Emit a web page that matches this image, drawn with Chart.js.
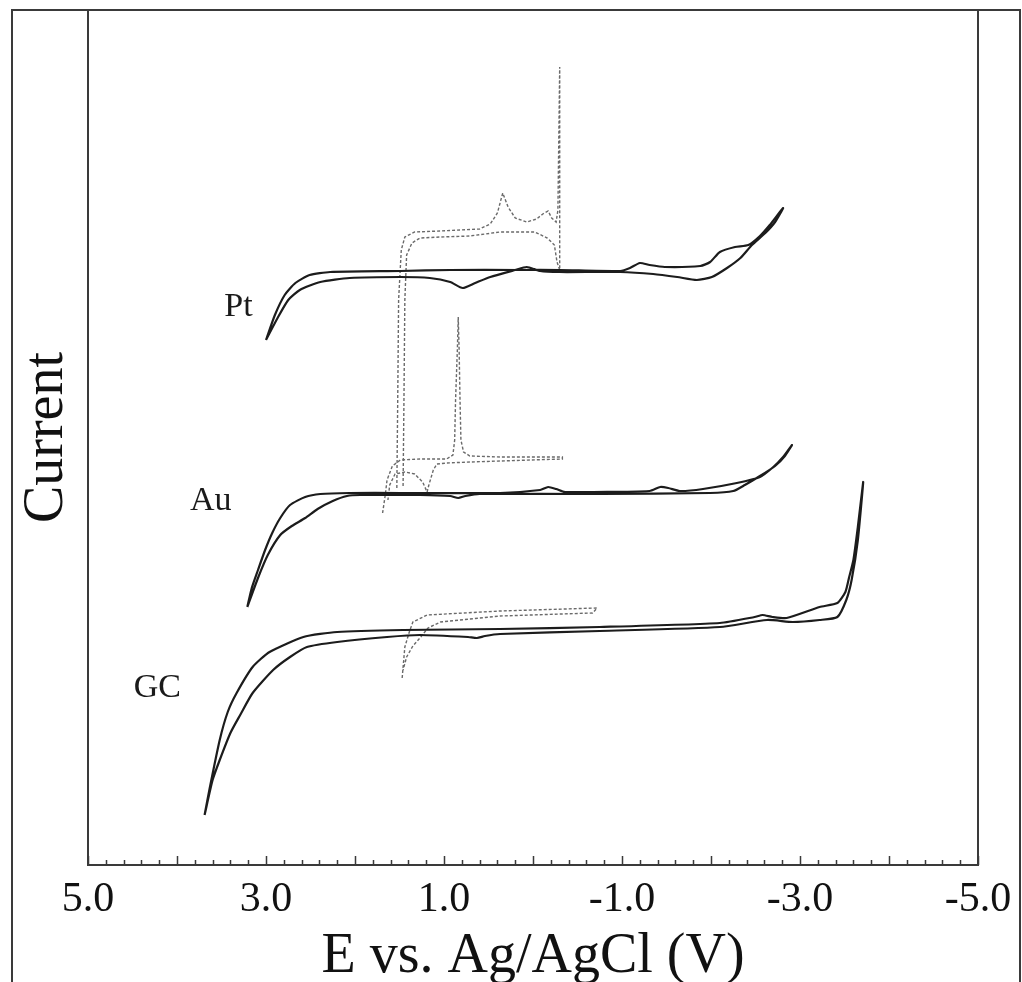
<!DOCTYPE html>
<html>
<head>
<meta charset="utf-8">
<script src="https://cdn.jsdelivr.net/npm/chart.js@4.4.1/dist/chart.umd.min.js"></script>
<style>
    html, body { margin: 0; padding: 0; background: #fff; }
    #wrap { width: 1022px; height: 982px; }
</style>
</head>
<body>
<div id="wrap"><canvas id="cvChart"></canvas></div>
<script>

// x: potential (V vs Ag/AgCl), y: current (arbitrary units, curves offset per electrode)
const xTickLabels = [5, 3, 1, -1, -3, -5];

const ptSolidV = [3.00,2.90,2.79,2.67,2.51,2.28,1.49,0.93,0.15,-0.30,-0.98,-1.09,-1.20,-1.31,-1.48,-1.88,-1.99,-2.10,-2.27,-2.42,-2.55,-2.66,-2.81,-2.72,-2.61,-2.46,-2.33,-2.18,-2.01,-1.84,-1.62,-1.35,-0.98,-0.30,-0.08,0.07,0.20,0.48,0.65,0.79,0.93,1.16,1.49,2.06,2.39,2.62,2.75,2.87,3.00];
const ptSolidI = [52.5,55.0,57.0,58.2,59.0,59.3,59.4,59.5,59.5,59.5,59.4,59.7,60.2,60.0,59.8,59.9,60.3,61.3,61.8,62.0,62.9,64.0,65.7,64.3,63.2,62.0,60.7,59.7,58.8,58.5,58.8,59.1,59.3,59.3,59.4,59.8,59.5,58.8,58.2,57.7,58.3,58.7,58.8,58.7,58.3,57.5,56.5,54.7,52.5];

const ptDotV = [1.53,1.52,1.51,1.48,1.44,1.33,1.04,0.60,0.48,0.40,0.34,0.28,0.20,0.07,-0.04,-0.11,-0.17,-0.21,-0.26,-0.28,-0.30,-0.30,-0.30,-0.27,-0.24,-0.16,-0.02,0.37,0.71,1.04,1.27,1.36,1.42,1.44,1.45,1.46];
const ptDotI = [37.7,46.5,56.5,61.5,62.8,63.3,63.4,63.6,64.1,65.2,67.2,65.8,64.7,64.3,64.6,65.1,65.4,64.7,64.3,65.5,79.8,71.5,59.5,60.3,62.0,62.7,63.3,63.3,62.9,62.8,62.7,62.2,61.0,56.5,46.5,37.7];

const auSolidV = [3.21,3.16,3.09,3.01,2.93,2.84,2.73,2.56,2.39,2.06,1.49,0.37,-0.08,-0.17,-0.26,-0.36,-1.31,-1.43,-1.52,-1.65,-1.91,-2.29,-2.55,-2.70,-2.81,-2.91,-2.83,-2.72,-2.55,-2.38,-2.25,-1.99,-0.75,0.60,0.76,0.84,0.93,1.27,1.94,2.09,2.25,2.42,2.56,2.71,2.84,2.98,3.09,3.21];
const auSolidI = [25.8,27.7,29.5,31.5,33.2,34.7,36.0,36.8,37.1,37.2,37.2,37.2,37.5,37.8,37.6,37.3,37.4,37.8,37.7,37.4,37.6,38.2,38.8,39.8,40.8,42.0,40.9,39.9,38.9,38.0,37.4,37.2,37.1,37.1,36.9,36.7,36.9,37.0,37.0,36.9,36.4,35.6,34.7,33.9,33.0,31.0,28.7,25.8];

const auDotV = [1.69,1.66,1.64,1.58,1.49,1.27,0.97,0.90,0.88,0.87,0.85,0.84,0.83,0.82,0.81,0.78,0.71,0.37,-0.33,-0.33,0.37,0.71,0.97,1.08,1.12,1.17,1.19,1.24,1.33,1.44,1.55,1.61,1.63];
const auDotI = [35.2,37.0,38.5,39.9,40.5,40.6,40.6,41.0,42.5,46.5,51.5,54.8,51.5,46.5,42.5,41.3,40.9,40.8,40.8,40.6,40.4,40.3,40.2,40.1,39.5,38.0,37.3,38.3,39.1,39.3,39.1,38.0,36.5];

const gcSolidV = [3.69,3.63,3.52,3.43,3.33,3.15,2.96,2.58,2.20,1.46,0.37,-0.75,-2.10,-2.49,-2.58,-2.69,-2.85,-3.22,-3.42,-3.51,-3.55,-3.60,-3.65,-3.71,-3.65,-3.58,-3.52,-3.42,-3.22,-2.92,-2.63,-2.10,-0.75,0.37,0.54,0.63,0.73,1.27,1.64,2.20,2.54,2.73,2.92,3.15,3.29,3.40,3.52,3.60,3.69];
const gcSolidI = [5.0,7.8,12.5,15.3,17.2,19.8,21.3,22.8,23.3,23.5,23.6,23.8,24.2,24.8,25.0,24.8,24.7,25.8,26.2,27.3,28.7,30.5,33.8,38.3,32.5,28.5,26.5,24.8,24.5,24.3,24.5,23.8,23.4,23.1,22.9,22.7,22.8,23.0,22.8,22.3,21.8,20.8,19.5,17.2,15.0,13.2,10.5,8.5,5.0];

const gcDotV = [1.47,1.44,1.39,1.35,1.19,0.37,-0.72,-0.67,0.37,1.04,1.18,1.27,1.35,1.42,1.46];
const gcDotI = [18.7,21.8,23.3,24.3,25.0,25.4,25.7,25.2,24.9,24.3,23.7,22.7,21.9,20.8,19.5];

// electrode labels, placed in data units
const electrodeNames = ["Pt", "Au", "GC"];
const labelV = [3.31, 3.62, 4.22];
const labelI = [55.8, 36.4, 17.7];

const SERIF = "'Liberation Serif', 'DejaVu Serif', serif";

function pts(vs, is){
    return vs.map((v, i) => ({ x: v, y: is[i] }));
}

function solid(vs, is){
    return {
        data: pts(vs, is),
        borderColor: "#1c1c1c",
        borderWidth: 2.2,
        pointRadius: 0,
        tension: 0.2,
        fill: false
    };
}

function dotted(vs, is){
    return {
        data: pts(vs, is),
        borderColor: "#6a6a6a",
        borderWidth: 1.4,
        borderDash: [3, 2],
        pointRadius: 0,
        tension: 0,
        fill: false
    };
}

// frame, inward ticks and electrode names
const decorations = {
    id: "decorations",
    afterDraw(chart){
        const ctx = chart.ctx;
        const xs = chart.scales.x, ys = chart.scales.y;
        const a = chart.chartArea;

        ctx.save();
        ctx.strokeStyle = "#3a3a3a";
        ctx.lineWidth = 2;
        ctx.strokeRect(12, 10, chart.width - 14, chart.height - 2);
        ctx.strokeRect(a.left, a.top, a.right - a.left, a.bottom - a.top);

        ctx.lineWidth = 1.5;
        ctx.beginPath();
        for(let k = -25; k <= 25; k++){
            const v = k / 5;
            const px = Math.round(xs.getPixelForValue(v)) + 0.5;
            const len = (k % 5 === 0) ? 9 : 5;
            ctx.moveTo(px, a.bottom);
            ctx.lineTo(px, a.bottom - len);
        }
        ctx.stroke();

        ctx.fillStyle = "#1a1a1a";
        ctx.font = "34px " + SERIF;
        ctx.textAlign = "center";
        ctx.textBaseline = "middle";
        electrodeNames.forEach((name, i) => {
            ctx.fillText(name, xs.getPixelForValue(labelV[i]), ys.getPixelForValue(labelI[i]));
        });
        ctx.restore();
    }
};

new Chart(document.getElementById("cvChart"), {
    type: "scatter",
    data: {
        datasets: [
            solid(ptSolidV, ptSolidI),
            dotted(ptDotV, ptDotI),
            solid(auSolidV, auSolidI),
            dotted(auDotV, auDotI),
            solid(gcSolidV, gcSolidI),
            dotted(gcDotV, gcDotI)
        ]
    },
    options: {
        responsive: true,
        maintainAspectRatio: false,
        animation: false,
        devicePixelRatio: 1,
        showLine: true,
        layout: { padding: { left: 0, right: 44, top: 10, bottom: 0 } },
        plugins: {
            legend: { display: false },
            tooltip: { enabled: false }
        },
        scales: {
            x: {
                type: "linear",
                reverse: true,
                min: -5,
                max: 5,
                afterBuildTicks: s => { s.ticks = xTickLabels.map(v => ({ value: v })); },
                afterFit: s => { s.height = 117; },
                ticks: {
                    color: "#111",
                    font: { family: SERIF, size: 42 },
                    padding: 10,
                    maxRotation: 0,
                    autoSkip: false,
                    callback: v => v.toFixed(1)
                },
                grid: { display: false, drawTicks: false },
                border: { display: false },
                title: {
                    display: true,
                    text: "E vs. Ag/AgCl (V)",
                    color: "#111",
                    font: { family: SERIF, size: 56, lineHeight: 0.9 },
                    padding: { top: 0, bottom: 0 }
                }
            },
            y: {
                min: 0,
                max: 85.5,
                afterFit: s => { s.width = 88; },
                ticks: { display: false },
                grid: { display: false, drawTicks: false },
                border: { display: false },
                title: {
                    display: true,
                    text: "Current",
                    color: "#111",
                    font: { family: SERIF, size: 56, lineHeight: 1 },
                    padding: { top: 19, bottom: 0 }
                }
            }
        }
    },
    plugins: [decorations]
});
</script>
</body>
</html>
